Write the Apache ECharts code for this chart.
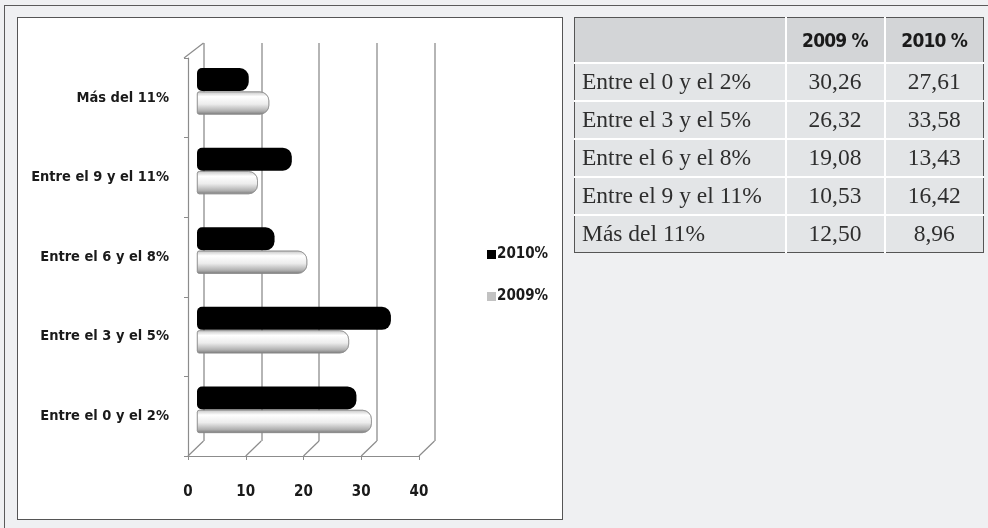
<!DOCTYPE html>
<html>
<head>
<meta charset="utf-8">
<script src="https://cdn.jsdelivr.net/npm/echarts@6/dist/echarts.min.js"></script>
<style>
  html, body { margin: 0; padding: 0; }
  body { width: 988px; height: 528px; background: #eff0f2; position: relative; overflow: hidden; }
  #frame { position: absolute; left: 4px; top: 5px; width: 1200px; height: 800px;
           border-left: 1.5px solid #5a5a5a; border-top: 1.5px solid #5a5a5a; }
  #panel { position: absolute; left: 17px; top: 17px; width: 544px; height: 501px;
           background: #fff; border: 1.5px solid #555; }
  #chart { position: absolute; left: 0; top: 0; width: 988px; height: 528px; }
  #tbl { position: absolute; left: 574px; top: 17px; border-collapse: collapse;
         border: 1.5px solid #555; font-family: "Liberation Serif", "Times New Roman", serif; }
  #tbl td, #tbl th { border: 2px solid #fff; padding: 0; line-height: 1; box-sizing: border-box; }
  #tbl tr:first-child th, #tbl tr:first-child td { border-top: none; }
  #tbl tr td:first-child, #tbl tr th:first-child { border-left: none; }
  #tbl tr td:last-child, #tbl tr th:last-child { border-right: none; }
  #tbl tr:last-child td { border-bottom: none; }
  #tbl th { background: #d3d5d7; height: 45px; font-family: "DejaVu Sans Condensed", sans-serif;
            font-weight: bold; font-size: 19px; color: #1a1a1a; letter-spacing: -0.8px; padding-top: 2px; }
  #tbl td { background: #e3e5e7; height: 38px; font-size: 23.5px; color: #2e2e2e; }
  #tbl td.lbl { text-align: left; padding-left: 7px; width: 211px; }
  #tbl td.num { text-align: center; width: 99px; }
</style>
</head>
<body>
<div id="frame"></div>
<div id="panel"></div>
<div id="chart"></div>
<table id="tbl"></table>
<script>
// Interest-rate brackets, bottom to top on the chart, top to bottom in the table
const categories = ['Entre el 0 y el 2%', 'Entre el 3 y el 5%', 'Entre el 6 y el 8%', 'Entre el 9 y el 11%', 'Más del 11%'];
const values2009 = [30.26, 26.32, 19.08, 10.53, 12.50];
const values2010 = [27.61, 33.58, 13.43, 16.42, 8.96];
const seriesNames = ['2010%', '2009%'];
const tableHeaders = ['2009 %', '2010 %'];
const axisMin = 0, axisMax = 40, axisStep = 10;

// ---- table ----
const fmt = v => v.toFixed(2).replace('.', ',');
const tbl = document.getElementById('tbl');
let html = '<tr><th></th>' + tableHeaders.map(h => '<th>' + h + '</th>').join('') + '</tr>';
categories.forEach((c, i) => {
  html += '<tr><td class="lbl">' + c + '</td><td class="num">' + fmt(values2009[i]) +
          '</td><td class="num">' + fmt(values2010[i]) + '</td></tr>';
});
tbl.innerHTML = html;

// ---- chart ----
const labelFont = '"DejaVu Sans Condensed", sans-serif';
const W = 988, H = 528;
// front plane, back wall, and mid-depth plane where the bars sit
const front = { left: 188, right: W - 419, top: 58, bottom: H - 456 };
const depthX = 15.5, depthY = 15;
const back = { left: front.left + depthX, right: front.right - depthX, top: front.top - depthY, bottom: front.bottom + depthY };
const mid = { left: 197, right: W - 428, top: front.top - 6.5, bottom: front.bottom + 6.5 };

const lineGray = '#8c8c8c';
const grayBar = {
  type: 'linear', x: 0, y: 0, x2: 0, y2: 1,
  colorStops: [
    { offset: 0, color: '#c4c4c4' },
    { offset: 0.22, color: '#ffffff' },
    { offset: 0.55, color: '#ececec' },
    { offset: 0.85, color: '#b0b0b0' },
    { offset: 1, color: '#7a7a7a' }
  ]
};

const chart = echarts.init(document.getElementById('chart'), null, { renderer: 'canvas' });
const option = {
  animation: false,
  backgroundColor: 'transparent',
  grid: [
    Object.assign({ containLabel: false }, front),
    Object.assign({ containLabel: false }, back),
    Object.assign({ containLabel: false }, mid)
  ],
  xAxis: [
    { gridIndex: 0, type: 'value', min: axisMin, max: axisMax, interval: axisStep,
      axisLine: { show: true, lineStyle: { color: lineGray, width: 1.2 } },
      axisTick: { show: true, length: 4, lineStyle: { color: lineGray } },
      splitLine: { show: false },
      axisLabel: { margin: 29, fontFamily: labelFont, fontWeight: 'bold', fontSize: 15, color: '#1a1a1a' } },
    { gridIndex: 1, type: 'value', min: axisMin, max: axisMax, interval: axisStep,
      axisLine: { show: false }, axisTick: { show: false }, axisLabel: { show: false },
      splitLine: { show: true, lineStyle: { color: '#9c9c9c', width: 1.5 } } },
    { gridIndex: 2, type: 'value', min: axisMin, max: axisMax, show: false }
  ],
  yAxis: [
    { gridIndex: 0, type: 'category', data: categories,
      axisLine: { show: true, lineStyle: { color: lineGray, width: 1.2 } },
      axisTick: { show: true, length: 4, lineStyle: { color: lineGray } },
      axisLabel: { margin: 19, fontFamily: labelFont, fontWeight: 'bold', fontSize: 14.5, color: '#1a1a1a' } },
    { gridIndex: 1, type: 'category', data: categories, show: false },
    { gridIndex: 2, type: 'category', data: categories, show: false }
  ],
  legend: {
    orient: 'vertical', left: 482, top: 242, itemWidth: 9, itemHeight: 9, itemGap: 27,
    icon: 'rect',
    textStyle: { fontFamily: labelFont, fontWeight: 'bold', fontSize: 15, color: '#1a1a1a', padding: [0, 0, 0, -4] },
    data: [
      { name: seriesNames[0], itemStyle: { color: '#000', borderWidth: 0 } },
      { name: seriesNames[1], itemStyle: { color: '#c2c2c2', borderWidth: 0 } }
    ]
  },
  series: [
    { name: seriesNames[0], type: 'bar', xAxisIndex: 2, yAxisIndex: 2, data: values2010,
      barWidth: 23, barGap: '2%',
      itemStyle: { color: '#000', borderRadius: [5, 9, 9, 5] } },
    { name: seriesNames[1], type: 'bar', xAxisIndex: 2, yAxisIndex: 2, data: values2009,
      barWidth: 23, barGap: '2%',
      itemStyle: { color: grayBar, borderRadius: [2, 9, 9, 2], borderColor: '#8a8a8a', borderWidth: 0.6 } }
  ]
};
chart.setOption(option);

// receding floor and wall edges joining the front axes to the back wall
const edges = [];
for (let v = axisMin; v <= axisMax; v += axisStep) {
  const fx = chart.convertToPixel({ xAxisIndex: 0 }, v);
  const bx = chart.convertToPixel({ xAxisIndex: 1 }, v);
  edges.push({ type: 'line', silent: true,
    shape: { x1: fx, y1: H - front.bottom, x2: bx, y2: H - back.bottom },
    style: { stroke: lineGray, lineWidth: 1.2 } });
}
const fx0 = chart.convertToPixel({ xAxisIndex: 0 }, axisMin);
const bx0 = chart.convertToPixel({ xAxisIndex: 1 }, axisMin);
edges.push({ type: 'line', silent: true,
  shape: { x1: fx0 - 4, y1: front.top, x2: bx0, y2: back.top },
  style: { stroke: lineGray, lineWidth: 1.2 } });
chart.setOption({ graphic: edges });
</script>
</body>
</html>
